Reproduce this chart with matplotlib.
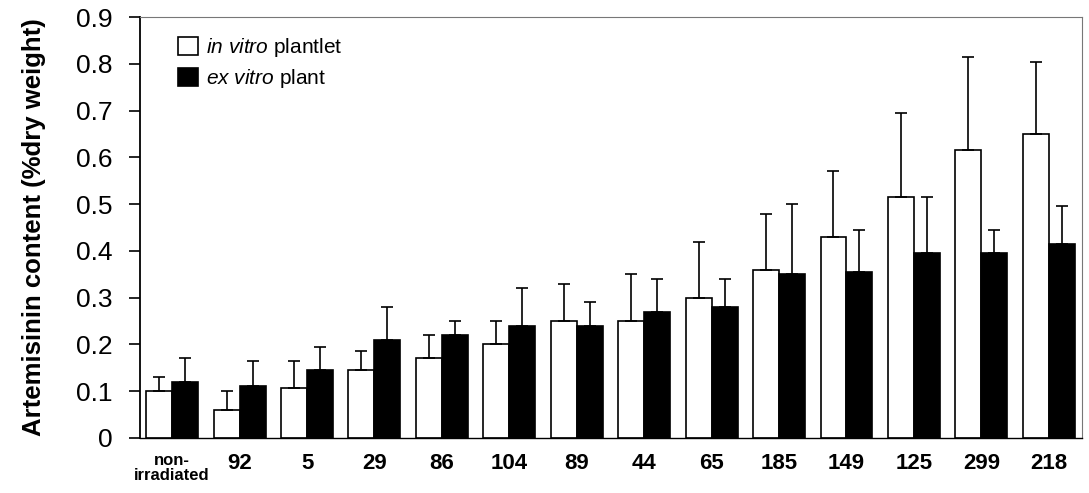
'''Artemisininnhold i bestrålte linjer, in vitro og ex vitro'''

import matplotlib
matplotlib.use('Agg')
import matplotlib.pyplot as plt
import numpy as np

plt.rcParams['font.family'] = ['Liberation Sans', 'DejaVu Sans']
plt.rcParams['mathtext.fontset'] = 'custom'
plt.rcParams['mathtext.it'] = 'Liberation Sans:italic'
plt.rcParams['mathtext.rm'] = 'Liberation Sans'

# Data

linjer = ['non-\nirradiated', '92', '5', '29', '86', '104', '89', '44',
          '65', '185', '149', '125', '299', '218']
in_vitro = [0.10, 0.06, 0.107, 0.145, 0.17, 0.20, 0.25, 0.25,
            0.30, 0.36, 0.43, 0.515, 0.615, 0.65]
in_vitro_sd = [0.03, 0.04, 0.058, 0.04, 0.05, 0.05, 0.08, 0.10,
               0.12, 0.12, 0.14, 0.18, 0.20, 0.155]
ex_vitro = [0.12, 0.11, 0.145, 0.21, 0.22, 0.24, 0.24, 0.27,
            0.28, 0.35, 0.355, 0.395, 0.395, 0.415]
ex_vitro_sd = [0.05, 0.055, 0.05, 0.07, 0.03, 0.08, 0.05, 0.07,
               0.06, 0.15, 0.09, 0.12, 0.05, 0.08]

# Plotting

x = np.arange(len(linjer))
b = 0.385

fig = plt.figure(figsize=(10.89, 4.93), dpi=100)
ax = fig.add_axes([0.129, 0.112, 0.865, 0.853])

feil = dict(ecolor='black', elinewidth=1.2, capsize=4, capthick=1.2)
ax.bar(x - b/2, in_vitro, b, color='white', edgecolor='black', linewidth=1.2,
       yerr=[np.zeros(len(x)), in_vitro_sd], error_kw=feil,
       label=r'$\it{in\ vitro}$ plantlet')
ax.bar(x + b/2, ex_vitro, b, color='black', edgecolor='black', linewidth=1.2,
       yerr=[np.zeros(len(x)), ex_vitro_sd], error_kw=feil,
       label=r'$\it{ex\ vitro}$ plant')

ax.set_xlim(-0.47, len(x) - 0.5)
ax.set_ylim(0, 0.9)
ax.set_yticks(np.arange(0, 0.91, 0.1))
ax.set_yticklabels(['0'] + ['%.1f' % v for v in np.arange(0.1, 0.91, 0.1)],
                   fontsize=19)
ax.set_xticks(x)
ax.set_xticklabels(linjer, fontweight='bold', fontsize=16)
ax.get_xticklabels()[0].set_fontsize(12)
ax.get_xticklabels()[0].set_linespacing(1.0)
ax.tick_params(axis='x', length=0, pad=11)
ax.tick_params(axis='y', length=8, width=1.2, direction='out', pad=12)

for s in ['top', 'right']:
    ax.spines[s].set_color('#777777')
    ax.spines[s].set_linewidth(0.8)
ax.spines['left'].set_linewidth(1.3)
ax.spines['bottom'].set_linewidth(1.0)

ax.set_ylabel('Artemisinin content (%dry weight)', fontsize=18.5,
              fontweight='bold', labelpad=22)

ax.legend(loc='upper left', frameon=False, fontsize=15, handlelength=0.95,
          handleheight=0.95, handletextpad=0.4, labelspacing=0.4,
          borderaxespad=0.5, bbox_to_anchor=(0.02, 1.0))

fig.savefig('out.png', dpi=100)
